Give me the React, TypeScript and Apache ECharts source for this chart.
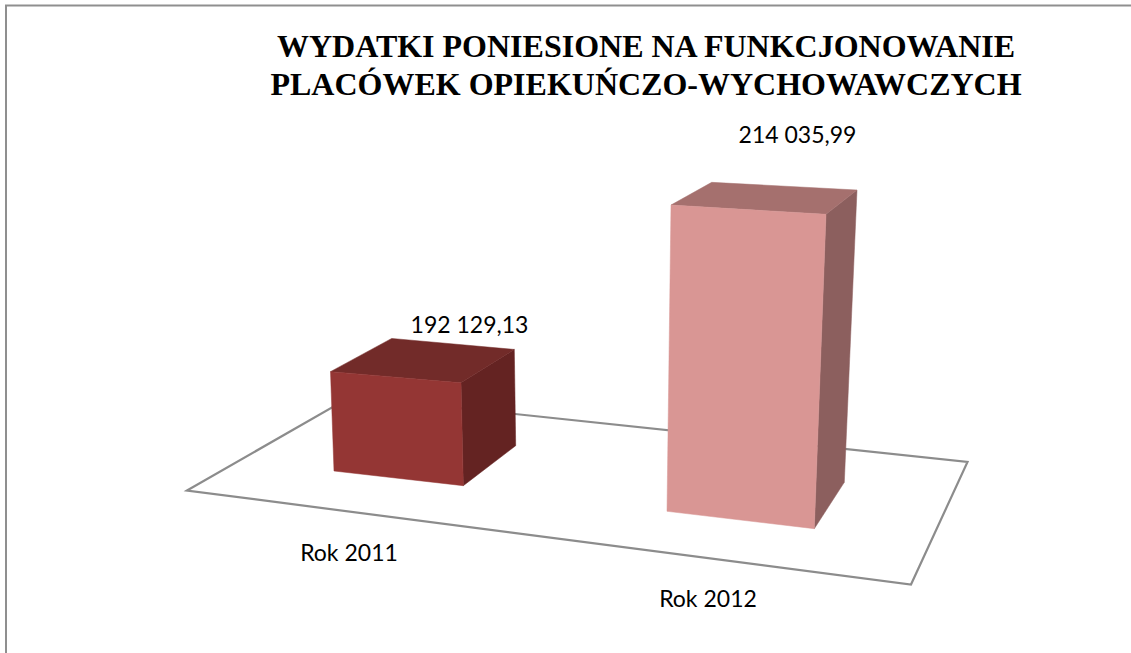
import React, { useEffect, useRef } from "react";
import * as echarts from "echarts";

const titleLines = [
  "WYDATKI PONIESIONE NA FUNKCJONOWANIE",
  "PLACÓWEK OPIEKUŃCZO-WYCHOWAWCZYCH",
];
const categories = ["Rok 2011", "Rok 2012"];
const values = [192129.13, 214035.99];
const valueLabels = ["192 129,13", "214 035,99"];
const axisMin = 181500;
const axisMax = 216000;

const faceColors = [
  { front: "#943634", top: "#722b29", side: "#642322" },
  { front: "#d99694", top: "#a5706e", side: "#8c5f5e" },
];

// Perspective projection of each column, relative to its axis-driven anchors.
const perspective = [
  {
    baseShift: -41.5,
    ftl: [-66.5, -5.5], ftr: [64, 5.7], btl: [-5.3, -38.7], btr: [117.3, -27.7],
    fbl: [-63, -7.5], fbr: [66.3, 7.2], bbr: [118.7, -32.8],
    valueLabel: [72.5, -53], catLabel: [-48, 73],
  },
  {
    baseShift: 0,
    ftl: [-74, -4.7], ftr: [81, 4.6], btl: [-33.3, -27.4], btr: [112, -19.7],
    fbl: [-78, -8.7], fbr: [69.3, 8.7], bbr: [99.3, -37.7],
    valueLabel: [52.5, -75.5], catLabel: [-37, 78],
  },
];

const LABEL_FONT = '23px Lato, "Open Sans", sans-serif';

function renderColumn(_params: any, api: any) {
  const i = api.value(0);
  const v = api.value(1);
  const p = perspective[i];
  const [cx, rawBase] = api.coord([i, axisMin]);
  const [, rawTop] = api.coord([i, v]);
  const base = rawBase + p.baseShift;
  const top = rawTop + p.baseShift;
  const T = (o: number[]) => [cx + o[0], top + o[1]];
  const B = (o: number[]) => [cx + o[0], base + o[1]];
  const c = faceColors[i];
  const poly = (points: number[][], fill: string) => ({
    type: "polygon",
    shape: { points },
    style: { fill, stroke: fill, lineWidth: 0.5 },
  });
  const text = (s: string, pos: number[]) => ({
    type: "text",
    style: {
      text: s,
      x: pos[0],
      y: pos[1],
      align: "center",
      verticalAlign: "middle",
      font: LABEL_FONT,
      fill: "#000000",
    },
  });
  return {
    type: "group",
    children: [
      poly([T(p.ftr), T(p.btr), B(p.bbr), B(p.fbr)], c.side),
      poly([T(p.ftl), T(p.btl), T(p.btr), T(p.ftr)], c.top),
      poly([T(p.ftl), T(p.ftr), B(p.fbr), B(p.fbl)], c.front),
      text(valueLabels[i], T(p.valueLabel)),
      text(categories[i], B(p.catLabel)),
    ],
  };
}

export default function App() {
  const ref = useRef<HTMLDivElement>(null);
  useEffect(() => {
    const chart = echarts.init(ref.current!, null, { renderer: "svg" });
    chart.setOption({
      animation: false,
      backgroundColor: "#ffffff",
      title: {
        text: titleLines.join("\n"),
        left: 641,
        top: 22,
        textAlign: "center",
        textStyle: {
          fontFamily: '"Liberation Serif", serif',
          fontWeight: "bold",
          fontSize: 32,
          lineHeight: 38,
          color: "#000000",
        },
      },
      grid: { left: 223, width: 696, top: 191, height: 329 },
      xAxis: { type: "category", data: categories, show: false },
      yAxis: { type: "value", min: axisMin, max: axisMax, show: false },
      graphic: [
        {
          type: "polyline",
          z: 0,
          shape: { points: [[6, 653], [6, 5.5], [1131, 5.5]] },
          style: { stroke: "#8f8f8f", lineWidth: 2, fill: "none" },
        },
        {
          type: "polygon",
          z: 0,
          shape: { points: [[187, 490.5], [351, 396.6], [967.5, 462], [911, 584.5]] },
          style: { fill: "#ffffff", stroke: "#8c8c8c", lineWidth: 2.2 },
        },
      ],
      series: [
        {
          type: "custom",
          coordinateSystem: "cartesian2d",
          renderItem: renderColumn,
          encode: { x: 0, y: 1 },
          data: categories.map((_, i) => [i, values[i]]),
        },
      ],
    });
    return () => chart.dispose();
  }, []);
  return (
    <div
      ref={ref}
      style={{ position: "absolute", left: 0, top: 0, width: 1131, height: 653 }}
    />
  );
}
